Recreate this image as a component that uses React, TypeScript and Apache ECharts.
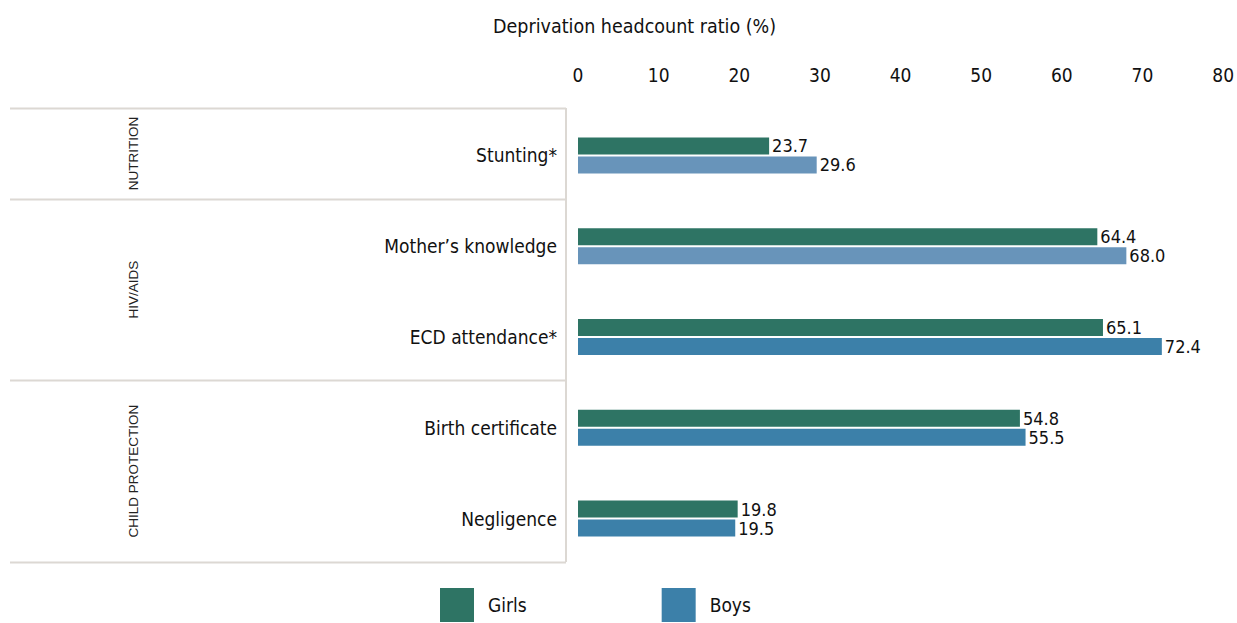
import React, { useEffect, useRef } from "react";
import * as echarts from "echarts";

const categories = ["Stunting*", "Mother\u2019s knowledge", "ECD attendance*", "Birth certificate", "Negligence"];
const girls = [23.7, 64.4, 65.1, 54.8, 19.8];
const boys = [29.6, 68.0, 72.4, 55.5, 19.5];
const boysLight = [true, true, false, false, false];
const xTicks = [0, 10, 20, 30, 40, 50, 60, 70, 80];
const groups = [
  { name: "NUTRITION", from: 0, to: 1 },
  { name: "HIV/AIDS", from: 1, to: 3 },
  { name: "CHILD PROTECTION", from: 3, to: 5 },
];

const GREEN = "#2e7464";
const BLUE = "#3c80a9";
const LIGHT = "#6894ba";
const LINE = "#dcd8d3";
const FONT = "'Liberation Sans Narrow', 'DejaVu Sans Condensed', 'Roboto', sans-serif";

const W = 1237;
const H = 623;
const GRID_TOP = 110;
const GRID_BOTTOM = 59;
const GRID_LEFT = 578;
const GRID_RIGHT = 8;
const TABLE_TOP = 108;
const TABLE_BOTTOM = 562;

export default function App() {
  const ref = useRef<HTMLDivElement>(null);
  useEffect(() => {
    document.body.style.margin = "0";
    if (!ref.current) return;
    const chart = echarts.init(ref.current, null, { renderer: "svg" });
    const band = (TABLE_BOTTOM - TABLE_TOP) / categories.length;
    const sepX = 566;
    const graphics: any[] = [];
    const bounds = [0, ...groups.map((g) => g.to)];
    bounds.forEach((b) => {
      const y = Math.round(TABLE_TOP + b * band) + 0.5;
      graphics.push({
        type: "line",
        shape: { x1: 10, y1: y, x2: sepX, y2: y },
        style: { stroke: LINE, lineWidth: 2 },
        silent: true,
      });
    });
    graphics.push({
      type: "line",
      shape: { x1: sepX, y1: TABLE_TOP, x2: sepX, y2: TABLE_BOTTOM },
      style: { stroke: LINE, lineWidth: 2 },
      silent: true,
    });
    groups.forEach((g) => {
      const cy = TABLE_TOP + ((g.from + g.to) / 2) * band;
      graphics.push({
        type: "text",
        x: 133,
        y: cy,
        rotation: Math.PI / 2,
        style: {
          text: g.name,
          fontFamily: "'Liberation Sans', Arial, sans-serif",
          fontSize: 13.5,
          fill: "#222",
          align: "center",
          verticalAlign: "middle",
        },
        silent: true,
      });
    });
    graphics.push({
      type: "text",
      left: 493,
      top: 16,
      style: {
        text: "Deprivation headcount ratio (%)",
        fontFamily: FONT,
        fontSize: 19.5,
        fill: "#111",
      },
    });

    const labelCfg = {
      show: true,
      position: "right",
      distance: 3,
      fontFamily: FONT,
      fontSize: 18,
      color: "#111",
      formatter: (p: any) => Number(p.value).toFixed(1),
    };

    chart.setOption({
      animation: false,
      textStyle: { fontFamily: FONT },
      grid: { left: GRID_LEFT, right: GRID_RIGHT, top: GRID_TOP, bottom: GRID_BOTTOM, containLabel: false },
      legend: {
        top: 583,
        left: 435,
        itemWidth: 34,
        itemHeight: 34,
        itemGap: 135,
        icon: "rect",
        textStyle: { fontFamily: FONT, fontSize: 19, color: "#111", padding: [0, 0, 0, 9] },
        data: ["Girls", "Boys"],
      },
      xAxis: {
        type: "value",
        position: "top",
        min: xTicks[0],
        max: xTicks[xTicks.length - 1],
        interval: 10,
        axisLine: { show: false },
        axisTick: { show: false },
        splitLine: { show: false },
        axisLabel: { fontFamily: FONT, fontSize: 19, color: "#111", margin: 26 },
      },
      yAxis: {
        type: "category",
        inverse: true,
        data: categories,
        axisLine: { show: false },
        axisTick: { show: false },
        axisLabel: { fontFamily: FONT, fontSize: 19, color: "#111", margin: 21 },
      },
      series: [
        {
          name: "Girls",
          type: "bar",
          data: girls,
          barWidth: 17,
          barGap: "12%",
          itemStyle: { color: GREEN },
          label: labelCfg,
        },
        {
          name: "Boys",
          type: "bar",
          data: boys.map((v, i) => ({ value: v, itemStyle: { color: boysLight[i] ? LIGHT : BLUE } })),
          barWidth: 17,
          barGap: "12%",
          itemStyle: { color: BLUE },
          label: labelCfg,
        },
      ],
      graphic: graphics,
    });
    return () => chart.dispose();
  }, []);
  return <div ref={ref} style={{ width: W, height: H }} />;
}
